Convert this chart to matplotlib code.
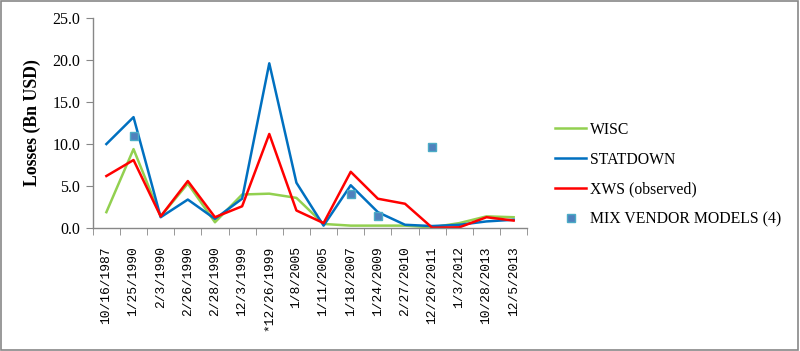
import matplotlib
matplotlib.use("Agg")
import matplotlib.pyplot as plt
from matplotlib.patches import Rectangle
import numpy as np

dates = ["10/16/1987", "1/25/1990", "2/3/1990", "2/26/1990", "2/28/1990", "12/3/1999",
         "*12/26/1999", "1/8/2005", "1/11/2005", "1/18/2007", "1/24/2009", "2/27/2010",
         "12/26/2011", "1/3/2012", "10/28/2013", "12/5/2013"]
wisc = [1.9, 9.4, 1.4, 5.3, 0.7, 4.0, 4.1, 3.6, 0.5, 0.3, 0.3, 0.3, 0.1, 0.6, 1.4, 1.3]
statdown = [10.0, 13.2, 1.3, 3.4, 1.1, 3.5, 19.6, 5.4, 0.3, 5.1, 1.9, 0.4, 0.25, 0.4, 0.8, 1.0]
xws = [6.2, 8.1, 1.4, 5.6, 1.3, 2.6, 11.2, 2.1, 0.6, 6.7, 3.5, 2.9, 0.05, 0.1, 1.3, 0.9]
mix_idx = [1, 9, 10, 12]
mix_vals = [11.0, 4.05, 1.4, 9.6]

plt.rcParams['font.family'] = ['Liberation Serif', 'DejaVu Serif']

fig = plt.figure(figsize=(8.0, 3.51), dpi=100)
ax = fig.add_axes([0.116, 0.350, 0.543, 0.599])

x = np.arange(len(dates))
ax.plot(x, wisc, color='#92D050', lw=1.8, label='WISC')
ax.plot(x, statdown, color='#0070C0', lw=1.8, label='STATDOWN')
ax.plot(x, xws, color='#FF0000', lw=1.8, label='XWS (observed)')
ax.plot(mix_idx, mix_vals, ls='none', marker='s', ms=6, mfc='#4F81BD', mec='#4BACC6',
        mew=1.0, label='MIX VENDOR MODELS (4)')

ax.set_xlim(-0.5, len(dates) - 0.5)
ax.set_ylim(0, 25)
ax.set_yticks(np.arange(0, 25.1, 5))
ax.set_yticklabels([f"{v:.1f}" for v in np.arange(0, 25.1, 5)], fontsize=11.5)
ax.set_xticks(x)
ax.set_xticklabels(dates, rotation=90, fontsize=9.4, family=['Liberation Mono', 'DejaVu Sans Mono'])
ax.set_xticks(np.arange(-0.5, len(dates), 1), minor=True)
ax.tick_params(axis='x', which='major', length=0, pad=13)
ax.tick_params(axis='x', which='minor', length=5, color='#878787', direction='out')
ax.tick_params(axis='y', length=5, color='#878787', direction='out', pad=4)

for s in ['top', 'right']:
    ax.spines[s].set_visible(False)
for s in ['left', 'bottom']:
    ax.spines[s].set_color('#878787')
    ax.spines[s].set_linewidth(1.0)

ax.set_ylabel('Losses (Bn USD)', fontsize=12.8, fontweight='bold', labelpad=8)

leg = fig.legend(loc='center left', bbox_to_anchor=(0.686, 0.503), frameon=False,
                 fontsize=11.3, handlelength=2.0, handletextpad=0.2, labelspacing=0.88,
                 borderaxespad=0)

fig.add_artist(Rectangle((0.001, 0.002), 0.997, 0.995, transform=fig.transFigure,
                         fill=False, edgecolor='#878787', lw=1.2))

fig.savefig('out.png', dpi=100)
